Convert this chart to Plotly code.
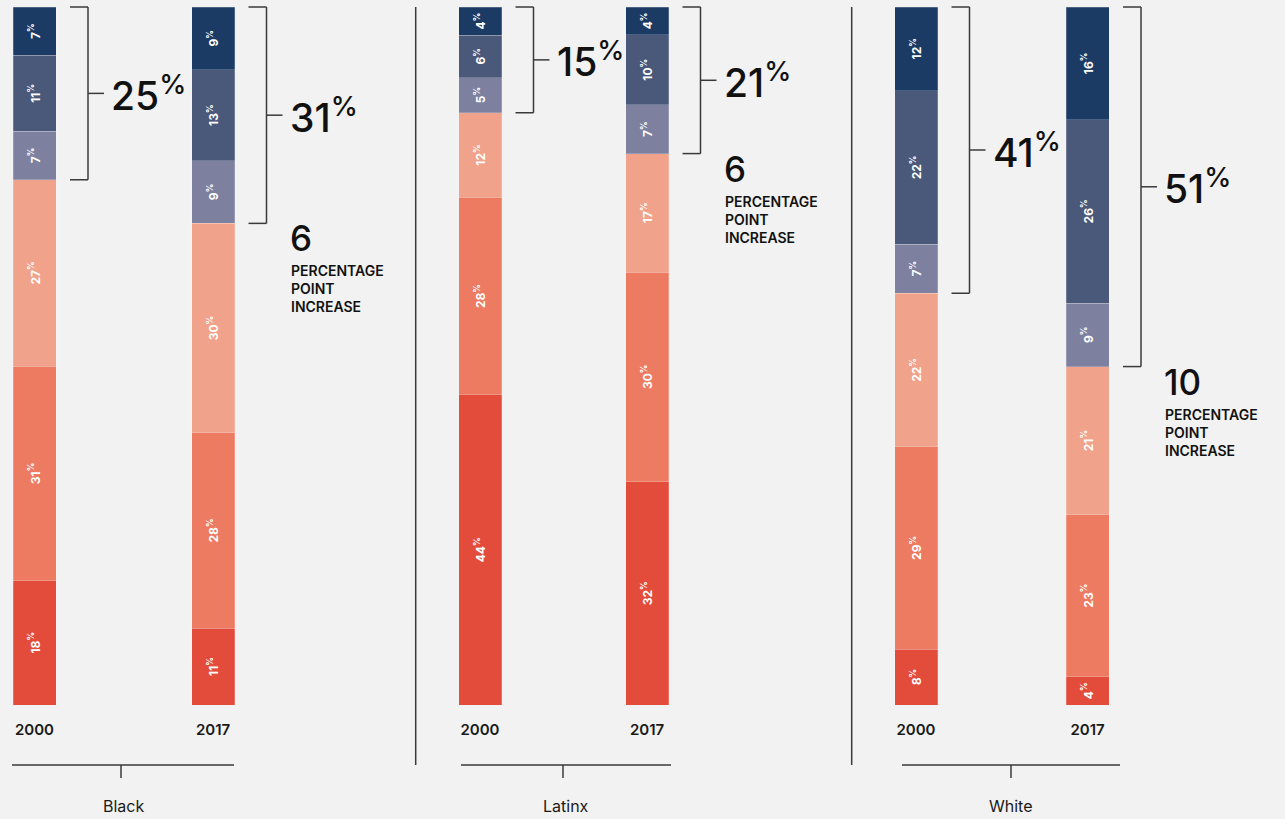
import plotly.graph_objects as go

# ---------------- data ----------------
groups = ["Black", "Latinx", "White"]
years = ["2000", "2017"]
segments = ["Segment 1", "Segment 2", "Segment 3", "Segment 4", "Segment 5", "Segment 6"]  # bottom -> top

black_2000 = [18, 31, 27, 7, 11, 7]
black_2017 = [11, 28, 30, 9, 13, 9]
latinx_2000 = [44, 28, 12, 5, 6, 4]
latinx_2017 = [32, 30, 17, 7, 10, 4]
white_2000 = [8, 29, 22, 7, 22, 12]
white_2017 = [4, 23, 21, 9, 26, 16]

data = {
    "Black": [black_2000, black_2017],
    "Latinx": [latinx_2000, latinx_2017],
    "White": [white_2000, white_2017],
}

# ---------------- style / layout ----------------
colors = ["#e34c3b", "#ec7b62", "#f0a28a", "#7d819f", "#4a5879", "#1b3a64"]
BG = "#f2f2f2"
W, H = 1285, 819
TOP, BOTTOM = 7, 705          # pixel rows of plot area
PLOT_H = BOTTOM - TOP
BAR_W = 43
FONT = "Inter"
INK = "#1a1a1a"
LINE = "#3a3a3a"

# pixel geometry per group: bar centres, subplot right edge, bottom line extent, tick x
geom = {
    "Black": dict(c=(34.5, 213.0), right=410, line=(12, 234), tick=121),
    "Latinx": dict(c=(480.0, 647.0), right=848, line=(461, 671), tick=563),
    "White": dict(c=(916.0, 1087.5), right=1285, line=(902, 1120), tick=1011),
}
separators = [415.7, 851.7]

def py(p):  # pixel row -> paper y
    return (BOTTOM - p) / PLOT_H

fig = go.Figure()
shapes = []
annotations = []

for gi, g in enumerate(groups):
    ax_id = "" if gi == 0 else str(gi + 1)
    xref = "x" + ax_id
    gm = geom[g]
    c0, c1 = gm["c"]
    u = c1 - c0
    half = BAR_W / 2 / u
    left_px = c0 - BAR_W / 2
    rng = [-half, -half + (gm["right"] - left_px) / u]
    fig.update_layout(**{
        "xaxis" + ax_id: dict(
            domain=[left_px / W, gm["right"] / W], range=rng, type="category",
            showgrid=False, zeroline=False, showline=False, ticks="",
            tickfont=dict(family=FONT, size=15, color=INK, weight=600),
            ticklabelstandoff=14, anchor="y", fixedrange=True,
        )
    })
    vals = data[g]
    for si, seg in enumerate(segments):
        yv = [vals[yi][si] for yi in range(len(years))]
        fig.add_trace(go.Bar(
            x=years, y=yv, name=seg, xaxis=xref, yaxis="y",
            width=BAR_W / u,
            marker=dict(color=colors[si], line=dict(width=0.6, color="rgba(255,255,255,0.35)")),
            text=[f"{v}<sup>%</sup>" for v in yv],
            textposition="inside", insidetextanchor="middle", textangle=-90,
            textfont=dict(family=FONT, size=12, color="white", weight=700),
            constraintext="none", showlegend=False, hoverinfo="skip",
        ))

    # brackets and annotations
    shares = []
    for yi, yr in enumerate(years):
        v = vals[yi]
        tot = sum(v)
        top3 = sum(v[3:])
        shares.append(top3)
        bottom = sum(v[:3]) / tot
        top = 1.0
        mid = (bottom + top) / 2
        xa = yi + BAR_W / 2 / u
        common = dict(type="line", xref=xref, yref="paper", xsizemode="pixel", xanchor=xa,
                      line=dict(color=LINE, width=1.5))
        shapes.append(dict(common, x0=32, x1=32, y0=bottom, y1=top))
        shapes.append(dict(common, x0=14, x1=32, y0=top, y1=top))
        shapes.append(dict(common, x0=14, x1=32, y0=bottom, y1=bottom))
        shapes.append(dict(common, x0=32, x1=48, y0=mid, y1=mid))
        annotations.append(dict(
            x=xa, xref=xref, y=mid, yref="paper", xshift=53, xanchor="left", yanchor="middle",
            text=f"{top3}<sup>%</sup>", showarrow=False,
            font=dict(family=FONT, size=39, color="#111111", weight=500),
        ))
        if yi == 1:
            inc = shares[1] - shares[0]
            annotations.append(dict(
                x=xa, xref=xref, y=bottom, yref="paper", xshift=53, yshift=-15,
                xanchor="left", yanchor="middle", text=str(inc), showarrow=False,
                font=dict(family=FONT, size=35, color="#111111", weight=500),
            ))
            annotations.append(dict(
                x=xa, xref=xref, y=bottom, yref="paper", xshift=54, yshift=-37,
                xanchor="left", yanchor="top", align="left",
                text="PERCENTAGE<br>POINT<br>INCREASE", showarrow=False,
                font=dict(family=FONT, size=14, color="#111111", weight=600),
            ))

    # bottom group axis line + tick + label
    x0, x1 = gm["line"]
    shapes.append(dict(type="line", xref="paper", yref="paper", x0=x0 / W, x1=x1 / W,
                       y0=py(765), y1=py(765), line=dict(color=LINE, width=1.5)))
    shapes.append(dict(type="line", xref="paper", yref="paper", x0=gm["tick"] / W, x1=gm["tick"] / W,
                       y0=py(765), y1=py(778), line=dict(color=LINE, width=1.5)))
    annotations.append(dict(
        x=(x0 + x1) / 2 / W, xref="paper", y=py(806), yref="paper", xanchor="center", yanchor="middle",
        text=g, showarrow=False, font=dict(family=FONT, size=16, color=INK, weight=400),
    ))

for sx in separators:
    shapes.append(dict(type="line", xref="paper", yref="paper", x0=sx / W, x1=sx / W,
                       y0=py(TOP), y1=py(765), line=dict(color=LINE, width=1.5)))

fig.update_layout(
    width=W, height=H,
    margin=dict(l=0, r=0, t=TOP, b=H - BOTTOM, pad=0),
    paper_bgcolor=BG, plot_bgcolor=BG,
    barmode="stack", barnorm="percent",
    yaxis=dict(domain=[0, 1], range=[0, 100], visible=False, fixedrange=True),
    shapes=shapes, annotations=annotations,
    uniformtext=dict(minsize=11, mode="show"),
    showlegend=False,
)

fig.write_html(
    "out.html",
    config={"displayModeBar": False},
    post_script="document.body.style.margin='0';document.body.style.background='" + BG + "';",
)
